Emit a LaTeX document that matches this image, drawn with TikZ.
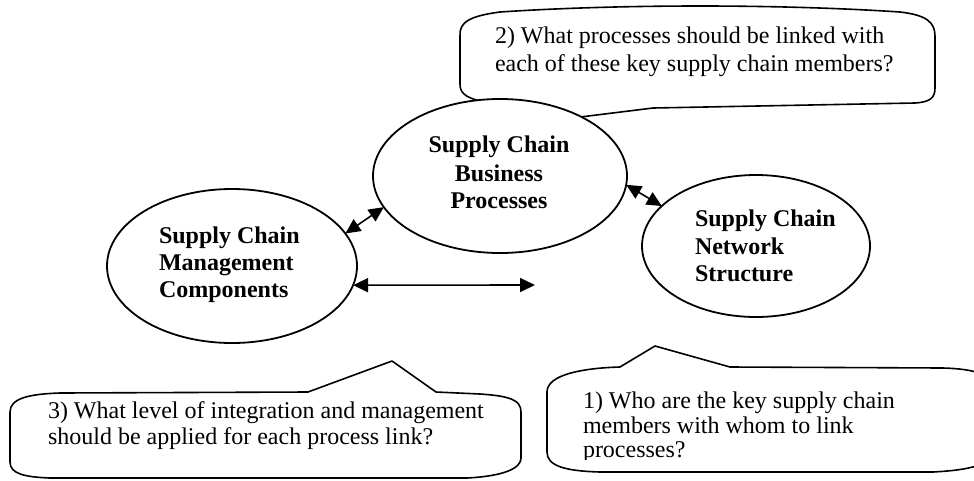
\documentclass[tikz,border=0pt]{standalone}
\usepackage{fontspec}
\setmainfont{Liberation Serif}
\usetikzlibrary{shapes.geometric,arrows.meta}
\tikzset{
  every node/.style={inner sep=0pt, outer sep=0pt},
  bubble/.style={draw, line width=1.6pt, fill=white, line join=round},
  oval/.style={ellipse, draw, line width=1.8pt, fill=white, inner sep=0pt},
  link/.style={line width=1.6pt, {Triangle[length=15pt,width=14pt]}-{Triangle[length=15pt,width=14pt]}},
  qtext/.style={anchor=base west, font=\fontsize{24}{28}\selectfont},
  btext/.style={anchor=base west, font=\fontsize{24}{28}\selectfont\bfseries},
  ctext/.style={anchor=base, font=\fontsize{24}{28}\selectfont\bfseries},
}
\begin{document}
\begin{tikzpicture}[x=1pt,y=-1pt]
\useasboundingbox (0,0) rectangle (974,480);
\fill[white] (0,0) rectangle (974,480);
\clip (0,0) rectangle (974,480);

% callout 2 (top), its pointer is hidden under the centre ellipse
\draw[bubble] (460,36) .. controls (459,22) and (470,16) .. (500,12)
  .. controls (620,4) and (780,4) .. (900,12)
  .. controls (926,15) and (935,22) .. (935,36)
  -- (935,88)
  .. controls (935,98) and (930,102) .. (915,103)
  -- (653,108) -- (540,122) -- (480,101)
  .. controls (464,97) and (460,92) .. (460,84) -- cycle;
\node[qtext] (q2a) at (495,43) {2) What processes should be linked with};
\node[qtext] (q2b) at (495,71) {each of these key supply chain members?};

% ellipses
\node[oval, minimum width=250pt, minimum height=154pt] (L) at (232,266) {};
\node[oval, minimum width=254pt, minimum height=154pt] (C) at (500,176) {};
\node[oval, minimum width=228pt, minimum height=142pt] (R) at (756,246) {};

\node[btext] (l1) at (159,243) {Supply Chain};
\node[btext] (l2) at (159,270) {Management};
\node[btext] (l3) at (159,297) {Components};

\node[ctext] (c1) at (499,152.5) {Supply Chain};
\node[ctext] (c2) at (499,181) {Business};
\node[ctext] (c3) at (499,208) {Processes};

\node[btext] (r1) at (695,226.5) {Supply Chain};
\node[btext] (r2) at (695,254) {Network};
\node[btext] (r3) at (695,281.5) {Structure};

% connectors
\coordinate (hend) at (535,285);
\draw[link] (L.16) -- (C.195);
\draw[link] (C.-4) -- (R.157);
\draw[link] (L.-9.5) -- (hend);

% callout 3 (bottom left)
\draw[bubble] (10,412) .. controls (10,398) and (30,394) .. (60,393)
  -- (308,392) -- (392,361) -- (436,392)
  -- (480,394) .. controls (510,396) and (521,400) .. (521,412)
  -- (521,458) .. controls (521,468) and (505,476) .. (467,478)
  -- (50,478) .. controls (25,477) and (10,474) .. (10,462) -- cycle;
\node[qtext] (q3a) at (48,418) {3) What level of integration and management};
\node[qtext] (q3b) at (48,444) {should be applied for each process link?};

% callout 1 (bottom right)
\draw[bubble] (547,392) .. controls (547,374) and (585,368) .. (620,367)
  -- (655,346) -- (730,367)
  -- (943,368) .. controls (975,369) and (992,374) .. (993,390)
  -- (993,450) .. controls (992,465) and (970,470) .. (933,472)
  -- (600,472) .. controls (565,471) and (547,466) .. (547,452) -- cycle;
\begin{scope}
  \clip (560,380) rectangle (970,459);
  \node[qtext] (q1a) at (583,408.5) {1) Who are the key supply chain};
  \node[qtext] (q1b) at (583,433) {members with whom to link};
  \node[qtext] (q1c) at (583,457.5) {processes?};
\end{scope}
\end{tikzpicture}
\end{document}
